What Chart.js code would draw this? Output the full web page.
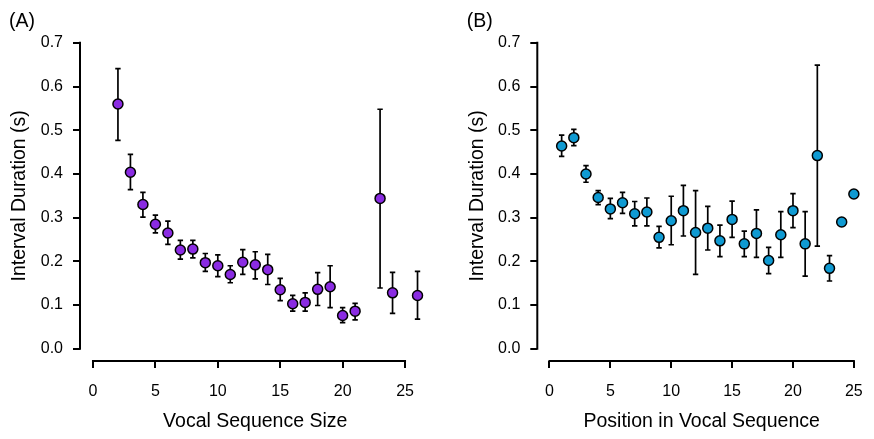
<!DOCTYPE html>
<html>
<head>
<meta charset="utf-8">
<script src="https://cdn.jsdelivr.net/npm/chart.js@4"></script>
<style>
  html, body { margin: 0; padding: 0; background: #fff; overflow: hidden; }
  #wrapA { position: absolute; left: 0; top: 0; width: 437px; height: 439px; }
  #wrapB { position: absolute; left: 437px; top: 0; width: 440px; height: 439px; }
</style>
</head>
<body>
<div id="wrapA"><canvas id="panelA" width="437" height="439"></canvas></div>
<div id="wrapB"><canvas id="panelB" width="440" height="439"></canvas></div>
<script>
// (A) interval duration by vocal sequence size
const sizeA = [2, 3, 4, 5, 6, 7, 8, 9, 10, 11, 12, 13, 14, 15, 16, 17, 18, 19, 20, 21, 23, 24, 26];
const meanA = [0.560, 0.404, 0.330, 0.285, 0.265, 0.226, 0.228, 0.197, 0.190, 0.170, 0.198, 0.192,
  0.181, 0.135, 0.103, 0.106, 0.136, 0.142, 0.076, 0.086, 0.344, 0.128, 0.122];
const lowA = [0.477, 0.364, 0.301, 0.265, 0.239, 0.205, 0.208, 0.177, 0.165, 0.151, 0.170, 0.160,
  0.147, 0.110, 0.086, 0.086, 0.099, 0.094, 0.060, 0.066, 0.139, 0.081, 0.068];
const highA = [0.641, 0.445, 0.358, 0.306, 0.292, 0.248, 0.248, 0.218, 0.215, 0.190, 0.227, 0.222,
  0.216, 0.161, 0.122, 0.128, 0.174, 0.190, 0.094, 0.104, 0.548, 0.175, 0.177];

// (B) interval duration by position in vocal sequence
const posB = [1, 2, 3, 4, 5, 6, 7, 8, 9, 10, 11, 12, 13, 14, 15, 16, 17, 18, 19, 20, 21, 22, 23, 24, 25];
const meanB = [0.464, 0.483, 0.400, 0.346, 0.320, 0.334, 0.309, 0.313, 0.255, 0.293, 0.316, 0.266,
  0.276, 0.247, 0.296, 0.240, 0.264, 0.202, 0.261, 0.316, 0.240, 0.442, 0.184, 0.290, 0.354];
const lowB = [0.440, 0.465, 0.381, 0.330, 0.298, 0.310, 0.281, 0.281, 0.231, 0.238, 0.258, 0.170,
  0.226, 0.211, 0.255, 0.211, 0.209, 0.172, 0.209, 0.277, 0.166, 0.235, 0.155, null, null];
const highB = [0.489, 0.502, 0.419, 0.362, 0.344, 0.358, 0.337, 0.345, 0.280, 0.349, 0.374, 0.362,
  0.326, 0.283, 0.338, 0.269, 0.318, 0.232, 0.314, 0.355, 0.314, 0.649, 0.213, null, null];

const xTicks = [0, 5, 10, 15, 20, 25];
const yTicks = [0, 0.1, 0.2, 0.3, 0.4, 0.5, 0.6, 0.7];

Chart.defaults.font.family = '"Liberation Sans", Arial, Helvetica, sans-serif';
Chart.defaults.color = '#000';

const errorBars = {
  id: 'errorBars',
  beforeDatasetsDraw(chart, args, opts) {
    const { ctx, scales: { x, y } } = chart;
    ctx.save();
    ctx.strokeStyle = '#000';
    ctx.lineWidth = 1.7;
    opts.xs.forEach((v, i) => {
      if (opts.low[i] == null) return;
      const px = x.getPixelForValue(v);
      const top = y.getPixelForValue(opts.high[i]);
      const bot = y.getPixelForValue(opts.low[i]);
      ctx.beginPath();
      ctx.moveTo(px, top); ctx.lineTo(px, bot);
      ctx.moveTo(px - 2.7, top); ctx.lineTo(px + 2.7, top);
      ctx.moveTo(px - 2.7, bot); ctx.lineTo(px + 2.7, bot);
      ctx.stroke();
    });
    ctx.restore();
  }
};

// R style axis lines: only from first to last tick
const rAxes = {
  id: 'rAxes',
  afterDraw(chart, args, opts) {
    const { ctx, chartArea, scales: { x, y } } = chart;
    ctx.save();
    ctx.strokeStyle = '#000';
    ctx.lineWidth = 2;
    ctx.lineCap = 'square';
    ctx.beginPath();
    ctx.moveTo(chartArea.left, y.getPixelForValue(yTicks[0]));
    ctx.lineTo(chartArea.left, y.getPixelForValue(yTicks[yTicks.length - 1]));
    ctx.moveTo(x.getPixelForValue(xTicks[0]), chartArea.bottom);
    ctx.lineTo(x.getPixelForValue(xTicks[xTicks.length - 1]), chartArea.bottom);
    ctx.stroke();
    ctx.font = '19.5px "Liberation Sans", Arial, sans-serif';
    ctx.fillStyle = '#000';
    ctx.textBaseline = 'alphabetic';
    ctx.fillText(opts.label, opts.labelX, 26.6);
    ctx.restore();
  }
};

function makePanel(id, xs, mean, low, high, color, xTitle, p) {
  new Chart(document.getElementById(id), {
    type: 'scatter',
    data: {
      datasets: [{
        data: xs.map((v, i) => ({ x: v, y: mean[i] })),
        pointRadius: 5,
        pointHoverRadius: 5,
        pointBackgroundColor: color,
        pointBorderColor: '#000',
        pointBorderWidth: 1.5,
        showLine: false,
        clip: false
      }]
    },
    options: {
      responsive: false,
      animation: false,
      layout: { padding: { left: 0, right: p.padRight, top: 30.6, bottom: 0 } },
      plugins: {
        legend: { display: false },
        tooltip: { enabled: false },
        errorBars: { xs: xs, low: low, high: high },
        rAxes: { label: p.label, labelX: p.labelX }
      },
      scales: {
        x: {
          type: 'linear',
          min: p.xMin,
          max: p.xMax,
          afterBuildTicks: s => { s.ticks = xTicks.map(v => ({ value: v })); },
          afterFit: s => { s.height = 78; },
          grid: { display: true, drawOnChartArea: false, drawTicks: true, tickLength: 7, color: '#000', lineWidth: 2 },
          border: { display: false },
          ticks: { font: { size: 16 }, padding: 14, maxRotation: 0, autoSkip: false, callback: v => String(v) },
          title: { display: true, text: xTitle, font: { size: 19.5 }, padding: { top: 0, bottom: 5.6 } }
        },
        y: {
          type: 'linear',
          min: -0.028,
          max: 0.728,
          afterBuildTicks: s => { s.ticks = yTicks.map(v => ({ value: v })); },
          afterFit: s => { s.width = p.yWidth; },
          grid: { display: true, drawOnChartArea: false, drawTicks: true, tickLength: 7, color: '#000', lineWidth: 2 },
          border: { display: false },
          ticks: { font: { size: 16 }, padding: 10, autoSkip: false, callback: v => v.toFixed(1) },
          title: { display: true, text: 'Interval Duration (s)', font: { size: 19.5 }, padding: { top: p.yTitlePad, bottom: 0 } }
        }
      }
    },
    plugins: [errorBars, rAxes]
  });
}

makePanel('panelA', sizeA, meanA, lowA, highA, '#8A2BE2', 'Vocal Sequence Size',
  { xMin: -1.04, xMax: 27.04, yWidth: 80, padRight: 4.3, yTitlePad: 8, label: '(A)', labelX: 9 });
makePanel('panelB', posB, meanB, lowB, highB, '#0F9AD2', 'Position in Vocal Sequence',
  { xMin: -1, xMax: 26, yWidth: 100.3, padRight: 1.2, yTitlePad: 28.6, label: '(B)', labelX: 29.7 });
</script>
</body>
</html>
